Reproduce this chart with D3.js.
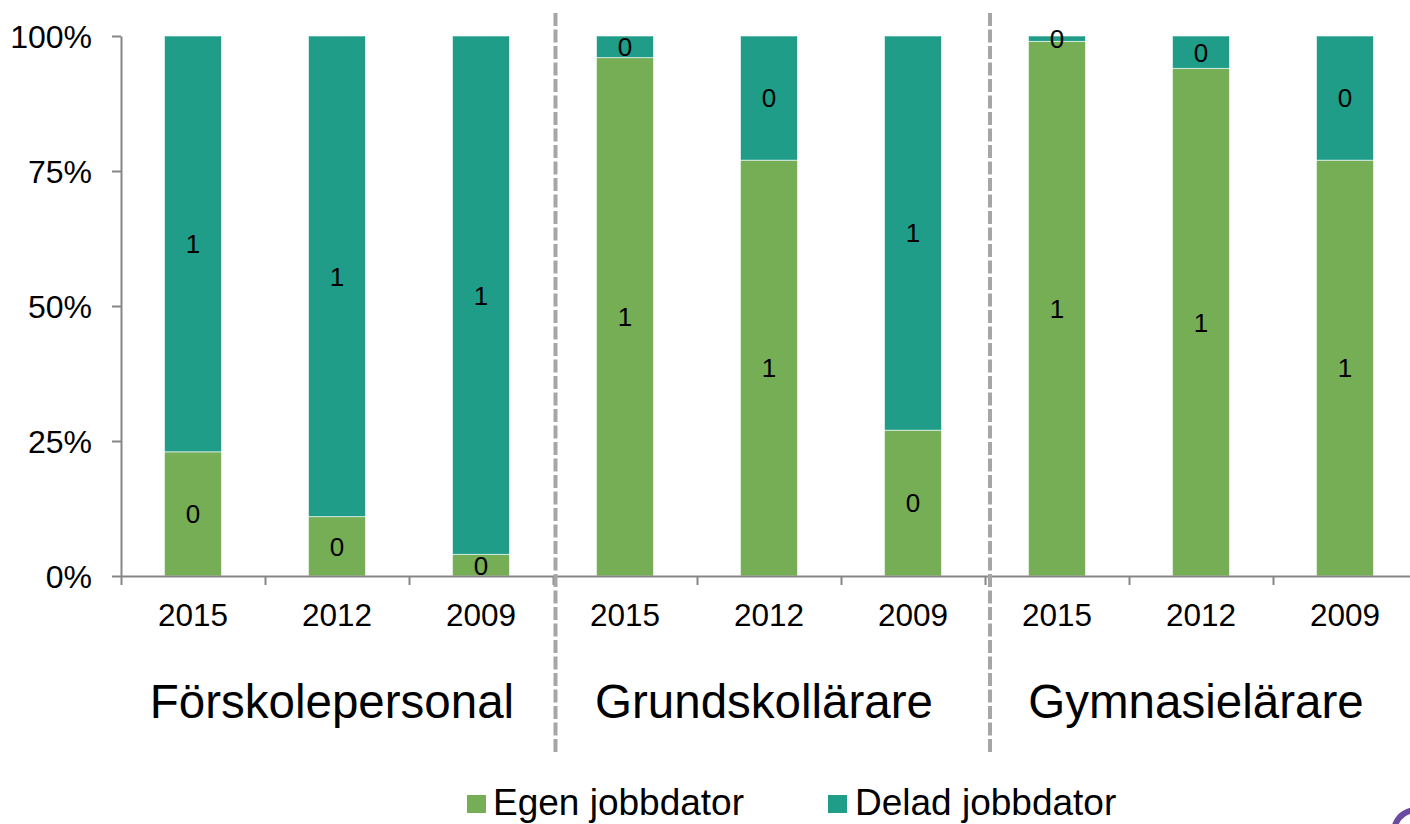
<!DOCTYPE html>
<html>
<head>
<meta charset="utf-8">
<script src="https://cdn.jsdelivr.net/npm/d3@7"></script>
<style>
  html, body { margin: 0; padding: 0; background: #fff; }
  svg { display: block; font-family: "Liberation Sans", Arial, sans-serif; }
</style>
</head>
<body>
<svg id="chart" width="1410" height="824"></svg>
<script>
// ---- data ----
const groups = ["Förskolepersonal", "Grundskollärare", "Gymnasielärare"];
const years = ["2015", "2012", "2009"];
const seriesNames = ["Egen jobbdator", "Delad jobbdator"];
const egen  = [0.23, 0.11, 0.04, 0.96, 0.77, 0.27, 0.99, 0.94, 0.77];
const delad = [0.77, 0.89, 0.96, 0.04, 0.23, 0.73, 0.01, 0.06, 0.23];
const yTicks = [0, 0.25, 0.5, 0.75, 1];
const colors = ["#75ae55", "#1f9d88"];

// ---- build rows ----
const rows = [];
groups.forEach((g, gi) => years.forEach((yr, yi) => {
  const i = gi * years.length + yi;
  rows.push({ key: g + "|" + yr, group: g, year: yr, "Egen jobbdator": egen[i], "Delad jobbdator": delad[i] });
}));

const svg = d3.select("#chart");
const margin = { left: 121, top: 36, bottom: 576 };
const plotRight = 1417;

const x = d3.scaleBand().domain(rows.map(d => d.key))
  .range([margin.left, plotRight]).paddingInner(0.604).paddingOuter(0.302);
const y = d3.scaleLinear().domain([0, 1]).range([margin.bottom, margin.top]);
const idx = d3.scaleLinear().domain([0, rows.length]).range([margin.left, plotRight]);

const stack = d3.stack().keys(seriesNames)(rows);

// bars
const layers = svg.append("g").selectAll("g").data(stack).join("g")
  .attr("fill", (d, i) => colors[i]);
layers.selectAll("rect").data(d => d).join("rect")
  .attr("x", d => x(d.data.key))
  .attr("width", x.bandwidth())
  .attr("y", d => y(d[1]))
  .attr("height", d => y(d[0]) - y(d[1]))
  .attr("stroke", "#ffffff").attr("stroke-opacity", 0.6).attr("stroke-width", 1);

// data labels
const fmt = d3.format(".0f");
layers.selectAll("text").data(d => d).join("text")
  .attr("x", d => x(d.data.key) + x.bandwidth() / 2)
  .attr("y", d => (y(d[0]) + y(d[1])) / 2)
  .attr("dy", "0.36em")
  .attr("text-anchor", "middle")
  .attr("fill", "#000")
  .attr("font-size", 26)
  .text(d => fmt(d[1] - d[0]));

// y axis
const yAxis = svg.append("g").attr("transform", `translate(${margin.left},0)`)
  .call(d3.axisLeft(y).tickValues(yTicks).tickFormat(d3.format(".0%")).tickSize(9).tickPadding(20).tickSizeOuter(0));
yAxis.select(".domain").attr("stroke", "#868686").attr("stroke-width", 2);
yAxis.selectAll(".tick line").attr("stroke", "#868686").attr("stroke-width", 2);
yAxis.selectAll(".tick text").attr("font-size", 32).attr("fill", "#000")
  .attr("font-family", "Liberation Sans, Arial, sans-serif").attr("dy", "0.36em");

// x axis (boundary ticks)
const xAxis = svg.append("g").attr("transform", `translate(0,${margin.bottom})`)
  .call(d3.axisBottom(idx).tickValues(d3.range(rows.length + 1)).tickFormat("").tickSize(9).tickSizeOuter(0));
xAxis.select(".domain").attr("stroke", "#868686").attr("stroke-width", 2);
xAxis.selectAll(".tick line").attr("stroke", "#868686").attr("stroke-width", 2);

// year labels
svg.append("g").selectAll("text").data(rows).join("text")
  .attr("x", d => x(d.key) + x.bandwidth() / 2)
  .attr("y", 626)
  .attr("text-anchor", "middle")
  .attr("font-size", 31.5)
  .attr("fill", "#000")
  .text(d => d.year);

// group labels
svg.append("g").selectAll("text").data(groups).join("text")
  .attr("x", (d, i) => (idx(i * 3) + idx(i * 3 + 3)) / 2 - 5)
  .attr("y", 718)
  .attr("text-anchor", "middle")
  .attr("font-size", 47.5)
  .attr("fill", "#000")
  .text(d => d);

// dashed group separators
const sepOffsets = [2.5, 5];
svg.append("g").selectAll("line").data([3, 6]).join("line")
  .attr("x1", (d, i) => idx(d) + sepOffsets[i])
  .attr("x2", (d, i) => idx(d) + sepOffsets[i])
  .attr("y1", 13).attr("y2", 752)
  .attr("stroke", "#a6a6a6").attr("stroke-width", 4)
  .attr("stroke-dasharray", "13,3.5");

// legend
const legendItems = [
  { name: seriesNames[0], color: colors[0], sx: 467, tx: 493 },
  { name: seriesNames[1], color: colors[1], sx: 828, tx: 855 }
];
const lg = svg.append("g");
lg.selectAll("rect").data(legendItems).join("rect")
  .attr("x", d => d.sx).attr("y", 795).attr("width", 19).attr("height", 18)
  .attr("fill", d => d.color);
lg.selectAll("text").data(legendItems).join("text")
  .attr("x", d => d.tx).attr("y", 815)
  .attr("font-size", 37)
  .attr("fill", "#000")
  .text(d => d.name);

// partial logo arc in bottom-right corner
svg.append("path")
  .attr("d", d3.arc()({ innerRadius: 19, outerRadius: 25, startAngle: -Math.PI * 0.75, endAngle: 0 }))
  .attr("transform", "translate(1416,832)")
  .attr("fill", "#6b4ba1");
</script>
</body>
</html>
